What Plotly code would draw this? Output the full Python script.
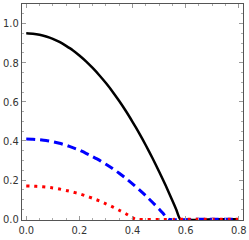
import plotly.graph_objects as go

# Values
x_black = [0, 0.025, 0.05, 0.075, 0.1, 0.125, 0.15, 0.175, 0.2, 0.225, 0.25, 0.275, 0.3, 0.325,
           0.35, 0.375, 0.4, 0.425, 0.45, 0.475, 0.5, 0.525, 0.55, 0.565, 0.58, 0.7, 0.8]
y_black = [0.95, 0.948, 0.943, 0.934, 0.922, 0.906, 0.886, 0.864, 0.837, 0.807, 0.773, 0.736, 0.696, 0.652,
           0.604, 0.553, 0.498, 0.440, 0.378, 0.313, 0.244, 0.172, 0.096, 0.0485, 0, 0, 0]

x_blue = [0, 0.025, 0.05, 0.075, 0.1, 0.125, 0.15, 0.175, 0.2, 0.225, 0.25, 0.275, 0.3, 0.325,
          0.35, 0.375, 0.4, 0.425, 0.45, 0.475, 0.5, 0.515, 0.535, 0.65, 0.8]
y_blue = [0.41, 0.409, 0.406, 0.402, 0.396, 0.388, 0.378, 0.366, 0.353, 0.337, 0.320, 0.302, 0.281, 0.259,
          0.235, 0.209, 0.181, 0.151, 0.120, 0.087, 0.052, 0.030, 0, 0, 0]

x_red = [0, 0.025, 0.05, 0.075, 0.1, 0.125, 0.15, 0.175, 0.2, 0.225, 0.25, 0.275, 0.3, 0.325,
         0.35, 0.375, 0.4, 0.41, 0.6, 0.8]
y_red = [0.17, 0.169, 0.167, 0.164, 0.160, 0.154, 0.147, 0.139, 0.130, 0.119, 0.107, 0.094, 0.079, 0.063,
         0.046, 0.028, 0.008, 0, 0, 0]

x_ticks = [0, 0.2, 0.4, 0.6, 0.8]
x_labels = ["0.0", "0.2", "0.4", "0.6", "0.8"]
y_ticks = [0, 0.2, 0.4, 0.6, 0.8, 1.0]
y_labels = ["0.0", "0.2", "0.4", "0.6", "0.8", "1.0"]

fig = go.Figure()
fig.add_trace(go.Scatter(x=x_black, y=y_black, mode="lines",
                         line=dict(color="black", width=2.5, shape="spline", smoothing=0.5)))
fig.add_trace(go.Scatter(x=x_blue, y=y_blue, mode="lines",
                         line=dict(color="#0000ff", width=3, dash="9px,5px", shape="spline", smoothing=0.5)))
fig.add_trace(go.Scatter(x=x_red, y=y_red, mode="lines",
                         line=dict(color="#ff0000", width=3, dash="3px,5px", shape="spline", smoothing=0.5)))

axis_common = dict(
    showgrid=False, zeroline=False, showline=True, linecolor="#555555", linewidth=1,
    mirror="allticks", ticks="inside", ticklen=4, tickcolor="#999999", tickwidth=1,
    tickfont=dict(family="Liberation Sans Narrow, DejaVu Sans Condensed, Arial", size=11, color="#333333"),
)

fig.update_layout(
    width=249, height=240,
    margin=dict(l=15, r=4, t=3, b=20),
    paper_bgcolor="white", plot_bgcolor="white",
    showlegend=False,
    xaxis=dict(range=[-0.016, 0.816], tickvals=x_ticks, ticktext=x_labels,
               minor=dict(ticks="inside", ticklen=2, dtick=0.05, tick0=0, tickcolor="#aaaaaa"),
               **axis_common),
    yaxis=dict(range=[-0.004, 1.1], tickvals=y_ticks, ticktext=y_labels,
               minor=dict(ticks="inside", ticklen=2, dtick=0.05, tick0=0, tickcolor="#aaaaaa"),
               **axis_common),
)

fig.write_html("out.html", config={"displayModeBar": False, "staticPlot": True},
               post_script="document.body.style.margin='0';document.body.style.overflow='hidden';")
